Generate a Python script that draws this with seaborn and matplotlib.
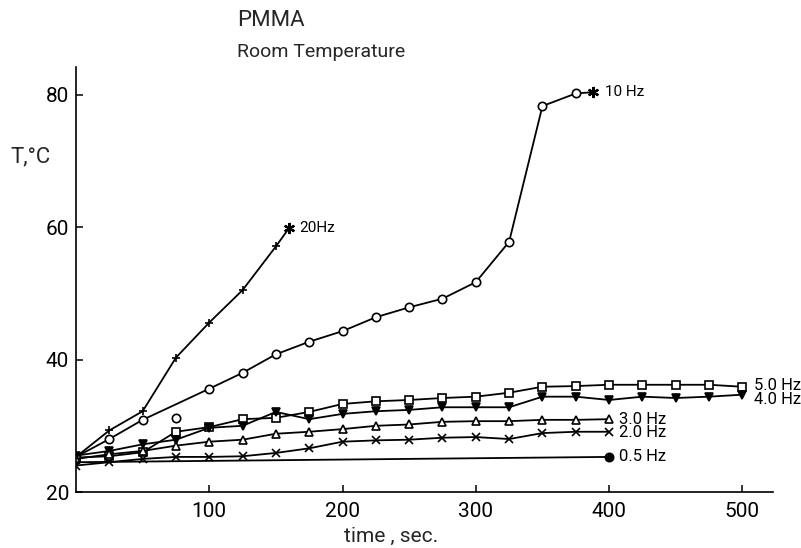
import numpy as np
import pandas as pd
import matplotlib
matplotlib.use("Agg")
import matplotlib.pyplot as plt
from matplotlib import font_manager
import seaborn as sns

# ---------------- data ----------------
t_20 = [0, 25, 50, 75, 100, 125, 150, 160]
T_20 = [25.3, 29.3, 32.2, 40.3, 45.6, 50.5, 57.1, 59.9]

t_10 = [0, 25, 50, 100, 125, 150, 175, 200, 225, 250, 275, 300, 325, 350, 375, 388]
T_10 = [25.3, 28.0, 30.9, 35.6, 38.0, 40.8, 42.7, 44.3, 46.4, 47.9, 49.2, 51.7, 57.8, 78.3, 80.2, 80.4]
t_10_extra = [75]
T_10_extra = [31.2]

t_5 = [0, 25, 50, 75, 100, 125, 150, 175, 200, 225, 250, 275, 300, 325, 350,
       375, 400, 425, 450, 475, 500]
T_5 = [25.2, 25.4, 26.0, 29.1, 29.8, 31.0, 31.2, 32.1, 33.3, 33.7, 33.9, 34.2, 34.4, 35.0, 35.9,
       36.0, 36.2, 36.2, 36.2, 36.2, 35.9]

t_4 = t_5
T_4 = [25.5, 26.2, 27.2, 27.9, 29.7, 30.0, 32.1, 31.0, 31.8, 32.2, 32.4, 32.8, 32.8, 32.8, 34.4,
       34.4, 33.9, 34.4, 34.2, 34.4, 34.7]

t_3 = [0, 25, 50, 75, 100, 125, 150, 175, 200, 225, 250, 275, 300, 325, 350, 375, 400]
T_3 = [25.0, 25.7, 26.2, 27.0, 27.6, 27.9, 28.8, 29.1, 29.5, 30.0, 30.2, 30.6, 30.7, 30.7, 30.9, 30.9, 31.0]

t_2 = t_3
T_2 = [24.0, 24.5, 25.0, 25.3, 25.3, 25.4, 25.9, 26.6, 27.6, 27.8, 27.9, 28.2, 28.3, 28.0, 28.9, 29.1, 29.1]

t_05 = [0, 400]
T_05 = [24.5, 25.3]

labels = ["20Hz", "10 Hz", "5.0 Hz", "4.0 Hz", "3.0 Hz", "2.0 Hz", "0.5 Hz"]
x_ticks = [100, 200, 300, 400, 500]
y_ticks = [20, 40, 60, 80]

# ---------------- style ----------------
sns.set_theme(style="ticks")
plt.rcParams["font.family"] = ["Roboto", "DejaVu Sans"]

installed = {f.name for f in font_manager.fontManager.ttflist}
narrow = "Liberation Sans Narrow" if "Liberation Sans Narrow" in installed else None

fig = plt.figure(figsize=(8.01, 5.48), dpi=100)
ax = fig.add_axes([76 / 801, 1 - 492 / 548, (773 - 76) / 801, (492 - 67) / 548])

lw = 1.3
ms = 6
K = "black"

def series(t, T, marker, fill, every=None):
    df = pd.DataFrame({"t": t, "T": T})
    sns.lineplot(data=df, x="t", y="T", ax=ax, color=K, lw=lw, marker=marker,
                 markersize=ms, markerfacecolor=fill, markeredgecolor=K,
                 markeredgewidth=1.2, markevery=every, estimator=None, sort=False)

# 20 Hz
series(t_20, T_20, "+", K, every=list(range(len(t_20) - 1)))
ax.plot(t_20[-1], T_20[-1], marker=(6, 2, 0), ms=8, color=K, mew=1.6)
# 10 Hz
series(t_10, T_10, "o", "white", every=list(range(len(t_10) - 1)))
ax.plot(t_10[-1], T_10[-1], marker=(6, 2, 0), ms=8, color=K, mew=1.6)
ax.plot(t_10_extra, T_10_extra, "o", ms=ms, mfc="white", mec=K, mew=1.2)
# 5.0 Hz
series(t_5, T_5, "s", "white")
# 4.0 Hz
series(t_4, T_4, "v", K)
# 3.0 Hz
series(t_3, T_3, "^", "white")
# 2.0 Hz
series(t_2, T_2, "x", K)
# 0.5 Hz
series(t_05, T_05, "o", K, every=[len(t_05) - 1])

# line labels
ends = [(t_20[-1], T_20[-1], 10, 0, 11),
        (t_10[-1], T_10[-1], 12, 0, 11),
        (t_5[-1], T_5[-1], 12, 1, 12),
        (t_4[-1], T_4[-1], 12, -5, 12),
        (t_3[-1], T_3[-1], 10, 0, 12),
        (t_2[-1], T_2[-1], 10, -1, 12),
        (t_05[-1], T_05[-1], 10, 0, 12)]
for lab, (x, y, dx, dy, fs) in zip(labels, ends):
    ax.annotate(lab, (x, y), xytext=(dx * 0.72, dy * 0.72), textcoords="offset points",
                ha="left", va="center", fontsize=fs, color=K)

# axes
ax.set_xlim(0, 523)
ax.set_ylim(20, 84.2)
ax.set_xticks(x_ticks)
ax.set_yticks(y_ticks)
ax.tick_params(direction="in", length=5, width=1.1, labelsize=15, colors=K)
ax.tick_params(axis="x", pad=7)
ax.tick_params(axis="y", pad=5)
sns.despine(ax=ax)
for s in ["left", "bottom"]:
    ax.spines[s].set_linewidth(1.2)
    ax.spines[s].set_color(K)
ax.set_xlabel("")
ax.set_ylabel("")

fig.text(391 / 801, 1 - 536 / 548, "time , sec.", ha="center", va="center", fontsize=15)
fig.text(10 / 801, 1 - 157 / 548, "T,°C", ha="left", va="center", fontsize=16)
fig.text(237 / 801, 1 - 20 / 548, "PMMA", ha="left", va="center", fontsize=16)
if narrow:
    fig.text(237 / 801, 1 - 52 / 548, "Room Temperature", ha="left", va="center",
             fontsize=16.5, family=[narrow, "DejaVu Sans"])
else:
    fig.text(237 / 801, 1 - 52 / 548, "Room Temperature", ha="left", va="center",
             fontsize=14)

fig.savefig("out.png", dpi=100, facecolor="white")
